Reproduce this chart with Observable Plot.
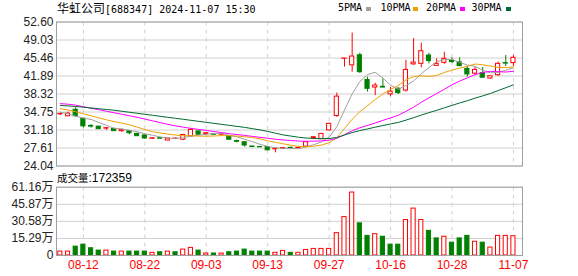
<!DOCTYPE html>
<html><head><meta charset="utf-8">
<script src="https://cdn.jsdelivr.net/npm/d3@7"></script>
<script src="https://cdn.jsdelivr.net/npm/@observablehq/plot@0.6"></script>
<style>
body{margin:0;background:#fff;}
#wrap{position:relative;width:578px;height:276px;overflow:hidden;background:#fff;}
#wrap svg{position:absolute;left:0;}
.t{position:absolute;white-space:nowrap;color:#000;line-height:14px;}
.mono{font-family:"DejaVu Sans Mono",monospace;font-size:10px;}
.cjk{font-family:"Noto Sans CJK SC",sans-serif;font-size:12px;}
.sw{position:absolute;width:5px;height:4px;}
</style></head>
<body><div id="wrap"></div>
<script>
const dates = ["08-07","08-08","08-09","08-12","08-13","08-14","08-15","08-16","08-19","08-20",
"08-21","08-22","08-23","08-26","08-27","08-28","08-29","08-30","09-02","09-03",
"09-04","09-05","09-06","09-09","09-10","09-11","09-12","09-13","09-18","09-19",
"09-20","09-23","09-24","09-25","09-26","09-27","09-30","10-08","10-09","10-10",
"10-11","10-14","10-15","10-16","10-17","10-18","10-21","10-22","10-23","10-24",
"10-25","10-28","10-29","10-30","10-31","11-01","11-04","11-05","11-06","11-07"];
const opens = [34.3,33.9,35.2,33.4,32.0,31.85,31.45,31.4,30.95,30.95,
30.4,30.1,29.45,29.55,29.1,29.4,29.25,29.9,30.9,30.4,
30.35,30.25,29.95,29.0,28.75,27.9,27.8,27.8,27.35,27.5,
27.65,27.6,27.9,29.6,29.35,31.1,33.95,45.3,44.0,46.0,
41.1,39.6,39.75,38.25,39.35,39.0,44.2,44.3,45.95,43.9,
44.5,44.95,44.6,43.3,42.35,42.45,41.4,42.05,44.45,44.45];
const highs = [34.5,34.7,35.6,33.5,32.2,31.9,31.6,31.45,31.35,31.05,
30.55,30.2,29.6,29.75,29.55,29.55,30.3,31.45,31.0,30.6,
30.45,30.4,30.05,29.15,28.85,28.0,27.85,27.85,27.5,27.7,
27.75,27.75,28.85,29.8,30.5,32.5,38.5,45.36,50.4,46.4,
41.65,40.45,41.3,39.65,39.6,45.0,49.3,48.4,46.4,45.3,
46.6,45.5,45.5,43.75,43.65,43.6,41.9,44.65,45.95,45.95];
const lows = [34.05,33.85,33.85,31.6,31.55,31.3,31.1,30.9,30.7,30.25,
29.9,29.3,29.3,29.35,29.05,29.3,29.05,29.85,30.2,30.1,
30.15,30.1,29.2,28.65,27.8,27.7,27.7,27.1,26.65,27.3,
27.5,27.45,27.8,29.25,29.3,31.0,33.7,43.65,42.65,42.4,
38.7,38.0,39.55,37.8,38.2,38.7,44.0,43.5,44.3,43.8,
44.2,44.4,43.75,41.65,42.0,41.5,41.25,41.8,43.75,43.75];
const closes = [34.38,34.42,33.9,31.9,31.85,31.35,31.55,30.95,31.2,30.55,
29.95,29.5,29.55,29.45,29.5,29.48,30.2,31.2,30.25,30.55,
30.25,30.3,29.25,28.85,28.1,27.8,27.75,27.15,27.45,27.6,
27.55,27.65,28.75,29.75,30.4,32.4,37.8,45.36,45.75,42.65,
39.35,40.0,39.6,38.8,38.5,43.1,44.55,46.8,44.85,44.3,
45.3,44.65,43.85,42.2,43.1,41.55,41.85,44.3,44.35,45.5];
// volume in 万
const volumes = [3.5,3.5,7.9,9.7,6.5,4.4,4.4,3.5,3.5,3.5,
3.5,3.5,2.4,2.9,3.5,2.9,5.3,6.8,4.4,1.8,
1.8,1.8,2.9,3.5,5.3,3.5,3.5,3.5,2.4,4.1,
2.4,2.4,5.0,5.9,5.9,5.9,20.0,34.4,56.4,28.8,
17.6,19.1,16.8,9.7,9.7,31.8,42.0,31.8,22.1,15.3,
16.8,11.5,15.3,17.6,12.3,11.5,7.1,17.6,17.6,17.24];
const ma5 = [34.7,34.4,33.9,33.55,33.29,32.68,32.11,31.52,31.38,31.12,
30.84,30.43,30.15,29.8,29.59,29.5,29.64,29.97,30.13,30.34,
30.49,30.51,30.12,29.84,29.35,28.86,28.35,27.93,27.65,27.55,
27.5,27.48,27.8,28.26,28.82,29.79,31.82,35.14,38.34,40.79,
42.18,42.62,41.47,40.08,39.25,40.0,40.91,42.35,43.56,44.72,
45.16,45.18,44.59,44.06,43.82,43.07,42.51,42.6,43.03,43.51];
const ma10 = [35.4,35.15,34.8,34.4,34.0,33.6,33.2,32.85,32.55,32.21,
31.76,31.27,30.84,30.59,30.36,30.17,30.03,30.06,29.96,29.96,
29.99,30.07,30.04,29.98,29.84,29.68,29.43,29.03,28.75,28.45,
28.18,27.92,27.87,27.96,28.19,28.65,29.65,31.47,33.3,34.81,
35.99,37.22,38.31,39.21,40.02,41.09,41.77,41.91,41.82,41.99,
42.58,43.05,43.47,43.81,44.27,44.12,43.85,43.6,43.55,43.67];
const ma20 = [36.4,36.3,36.1,35.8,35.5,35.2,34.9,34.6,34.3,34.0,
33.7,33.35,33.0,32.65,32.3,32.0,31.75,31.5,31.3,31.08,
30.88,30.67,30.44,30.29,30.1,29.92,29.73,29.54,29.35,29.21,
29.09,28.99,28.95,28.97,29.01,29.16,29.54,30.25,31.02,31.63,
32.08,32.57,33.09,33.58,34.1,34.87,35.71,36.69,37.56,38.4,
39.28,40.13,40.89,41.51,42.15,42.6,42.81,42.75,42.68,42.83];
const ma30 = [36.05,35.95,35.85,35.7,35.55,35.4,35.25,35.1,34.9,34.7,
34.5,34.3,34.1,33.9,33.7,33.5,33.3,33.1,32.9,32.7,
32.5,32.3,32.1,31.9,31.7,31.45,31.2,30.9,30.55,30.21,
29.98,29.75,29.58,29.51,29.46,29.5,29.7,30.18,30.67,31.07,
31.39,31.74,32.07,32.38,32.68,33.14,33.62,34.14,34.62,35.08,
35.58,36.06,36.55,36.99,37.49,37.95,38.42,38.99,39.56,40.15];
const priceTicks = [24.04,27.61,31.18,34.75,38.32,41.89,45.46,49.03,52.60];
const volTicks = [0,15.29,30.58,45.87,61.16];
const dateTicks = ["08-12","08-22","09-03","09-13","09-27","10-16","10-28","11-07"];
const stockName = "华虹公司";
const stockCode = "688347";
const stamp = "2024-11-07 15:30";
const lastVolume = 172359;
const maNames = ["5PMA","10PMA","20PMA","30PMA"];

const RED = "#ff0000", GREEN = "#008000", GRID = "#d0d0d0", FRAME = "#a0a0a0";
const maColors = ["#a0a0a0","#f0a000","#ff00ff","#006a30"];

const bars = dates.map((d,i)=>({
  i, date:d, open:opens[i], high:highs[i], low:lows[i], close:closes[i], vol:volumes[i],
  up: closes[i] >= opens[i],
  volUp: i===0 ? closes[i] >= opens[i] : closes[i] >= closes[i-1]
}));
const tickIdx = dateTicks.map(t=>dates.indexOf(t));
const xDomain = [-0.5, 60.18];
const half = 0.27;
const font = "Liberation Sans, Arial, Noto Sans CJK SC, sans-serif";

const maLines = [ma5,ma10,ma20,ma30].map((arr,k)=>Plot.line(arr,{x:(d,i)=>i,y:d=>d,stroke:maColors[k],strokeWidth:1}));

const price = Plot.plot({
  width:578, height:170, marginLeft:56, marginRight:56, marginTop:21.5, marginBottom:4.5,
  x:{domain:xDomain, axis:null},
  y:{domain:[24.04,52.60]},
  style:{fontSize:"12px", fontFamily:font, color:"#222", background:"transparent", overflow:"visible"},
  marks:[
    Plot.ruleY(priceTicks,{stroke:GRID}),
    Plot.ruleX(tickIdx,{stroke:GRID, strokeDasharray:"4,4"}),
    Plot.axisY(priceTicks,{tickSize:0, tickPadding:3, tickFormat:d=>d.toFixed(2), label:null, fill:"#222"}),
    Plot.ruleX(bars.filter(d=>d.up),{x:"i",y1:"low",y2:"high",stroke:RED}),
    Plot.ruleX(bars.filter(d=>!d.up),{x:"i",y1:"low",y2:"high",stroke:GREEN}),
    Plot.rect(bars.filter(d=>d.up),{x1:d=>d.i-half,x2:d=>d.i+half,y1:"open",y2:"close",fill:"#fff",stroke:RED}),
    Plot.rect(bars.filter(d=>!d.up),{x1:d=>d.i-half,x2:d=>d.i+half,y1:"open",y2:"close",fill:GREEN,stroke:GREEN}),
    ...maLines,
    Plot.frame({stroke:FRAME})
  ]
});

const vol = Plot.plot({
  width:578, height:111, marginLeft:56, marginRight:56, marginTop:21.7, marginBottom:21,
  x:{domain:xDomain},
  y:{domain:[0,61.16]},
  style:{fontSize:"12px", fontFamily:font, color:"#222", background:"transparent", overflow:"visible"},
  marks:[
    Plot.ruleY(volTicks,{stroke:GRID}),
    Plot.ruleX(tickIdx,{stroke:GRID, strokeDasharray:"4,4"}),
    Plot.axisY(volTicks,{tickSize:0, tickPadding:3, tickFormat:d=>d===0?"0":d.toFixed(2)+"万", label:null, fill:"#222"}),
    Plot.axisX(tickIdx,{tickSize:0, tickPadding:5, tickFormat:i=>dates[i], label:null, fill:RED}),
    Plot.rect(bars.filter(d=>d.volUp),{x1:d=>d.i-half,x2:d=>d.i+half,y1:0,y2:"vol",fill:"#fff",stroke:RED}),
    Plot.rect(bars.filter(d=>!d.volUp),{x1:d=>d.i-half,x2:d=>d.i+half,y1:0,y2:"vol",fill:GREEN,stroke:GREEN}),
    Plot.frame({stroke:FRAME})
  ]
});

const wrap = document.getElementById("wrap");
price.style.top = "0px";
vol.style.top = "165px";
wrap.appendChild(vol);
wrap.appendChild(price);

function addText(html, left, top, cls){
  const d = document.createElement("div");
  d.className = "t " + cls; d.style.left = left+"px"; d.style.top = top+"px";
  d.innerHTML = html; wrap.appendChild(d); return d;
}
addText(`<span class="cjk">${stockName}</span>[${stockCode}] ${stamp}`, 57, 1, "mono");
const legX = [338, 380.5, 426, 471.5], swX = [366, 413, 460, 506];
maNames.forEach((n,k)=>{
  addText(n, legX[k], 1, "mono");
  const s = document.createElement("div");
  s.className = "sw"; s.style.left = swX[k]+"px"; s.style.top = "7px"; s.style.background = maColors[k];
  wrap.appendChild(s);
});
addText(`<span style="font-family:'Noto Sans CJK SC';font-size:10.5px">成交量</span>:${lastVolume}`, 57, 171, "");
wrap.lastChild.style.fontFamily = font; wrap.lastChild.style.fontSize = "12px";
</script>
</body></html>
